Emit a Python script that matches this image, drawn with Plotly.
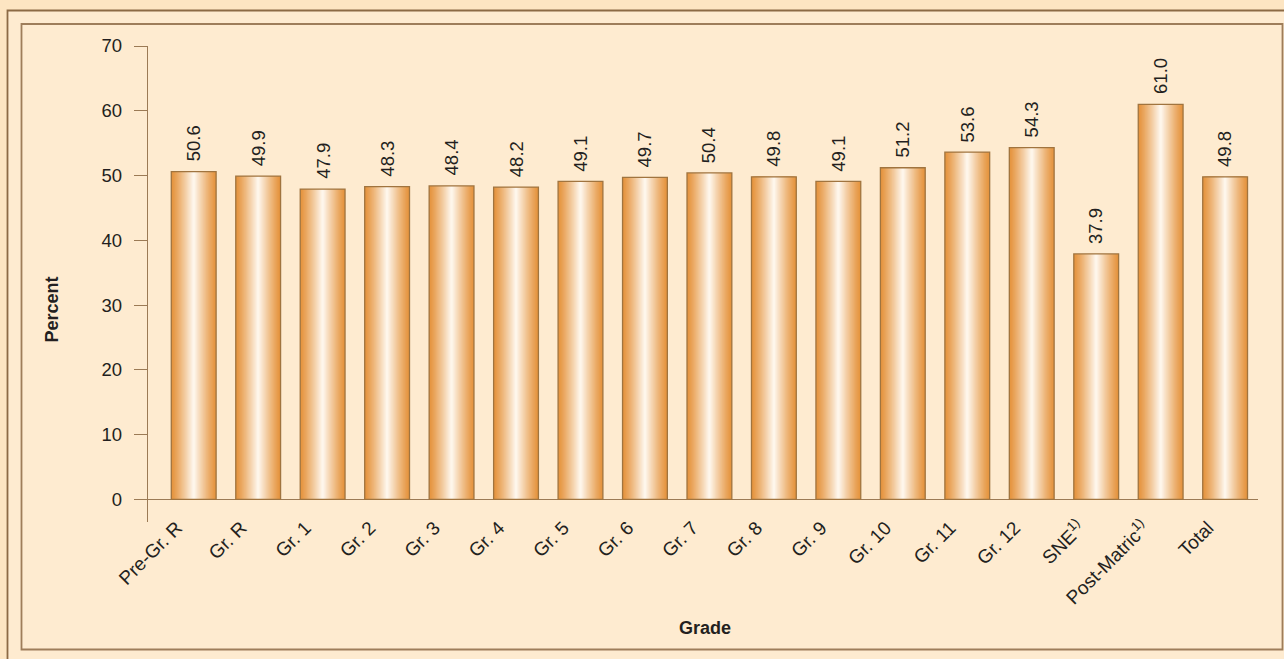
import plotly.graph_objects as go

categories = ["Pre-Gr. R", "Gr. R", "Gr. 1", "Gr. 2", "Gr. 3", "Gr. 4", "Gr. 5", "Gr. 6",
              "Gr. 7", "Gr. 8", "Gr. 9", "Gr. 10", "Gr. 11", "Gr. 12",
              "SNE<sup>1)</sup>", "Post-Matric<sup>1)</sup>", "Total"]
values = [50.6, 49.9, 47.9, 48.3, 48.4, 48.2, 49.1, 49.7, 50.4, 49.8, 49.1,
          51.2, 53.6, 54.3, 37.9, 61.0, 49.8]
y_ticks = [0, 10, 20, 30, 40, 50, 60, 70]

FONT = "Liberation Sans, Arial, sans-serif"
TXT = "#231f20"
AXC = "#9b7a55"
OUTER_BG = "#fde5c2"
INNER_BG = "#feebd0"

W, H = 1284, 659
ML, MR, MT, MB = 148, 26, 46, 137
PW, PH = W - ML - MR, H - MT - MB


def px_x(px):
    return (px - ML) / PW


def px_y(py):
    return (H - MB - py) / PH


fig = go.Figure()

# gradient bars: layered bars of decreasing width, orange -> white
N = 20
BW = 0.695
edge = (229, 148, 62)
mid = (255, 252, 246)
for k in range(N):
    t = k / N
    s = t ** 1.15
    c = tuple(int(round(edge[i] + (mid[i] - edge[i]) * s)) for i in range(3))
    fig.add_trace(go.Bar(
        x=categories, y=values, width=BW * (1 - t),
        marker=dict(color="rgb(%d,%d,%d)" % c, line=dict(width=0)),
        hoverinfo="skip", showlegend=False))
# outline
fig.add_trace(go.Bar(
    x=categories, y=values, width=BW,
    marker=dict(color="rgba(0,0,0,0)", line=dict(color="#a0743f", width=1.3)),
    showlegend=False))

for c, v in zip(categories, values):
    fig.add_annotation(x=c, y=v, text="%.1f" % v, textangle=-90, showarrow=False,
                       yanchor="bottom", xanchor="center", yshift=8,
                       font=dict(family=FONT, size=18.5, color=TXT))

fig.add_annotation(xref="paper", yref="paper", x=px_x(51.5), y=px_y(310),
                   text="<b>Percent</b>", textangle=-90, showarrow=False,
                   xanchor="center", yanchor="middle",
                   font=dict(family=FONT, size=18, color=TXT))
fig.add_annotation(xref="paper", yref="paper", x=px_x(705), y=px_y(628),
                   text="<b>Grade</b>", showarrow=False,
                   xanchor="center", yanchor="middle",
                   font=dict(family=FONT, size=18, color=TXT))

fig.add_shape(type="rect", xref="paper", yref="paper", layer="below",
              x0=px_x(7.5), x1=px_x(1400), y0=px_y(10.5), y1=px_y(800),
              fillcolor=INNER_BG, line=dict(color="#8c6a45", width=1.8))
fig.add_shape(type="rect", xref="paper", yref="paper", layer="below",
              x0=px_x(21.5), x1=px_x(1282.5), y0=px_y(24), y1=px_y(649.5),
              fillcolor=INNER_BG, line=dict(color="#9e7d5a", width=1.8))

fig.update_layout(
    width=W, height=H,
    margin=dict(l=ML, r=MR, t=MT, b=MB, pad=0),
    paper_bgcolor=OUTER_BG, plot_bgcolor="rgba(0,0,0,0)",
    barmode="overlay", bargap=0.3,
    font=dict(family=FONT, size=18, color=TXT),
    showlegend=False,
    xaxis=dict(range=[-0.709, 16.51], showline=False, ticks="", showgrid=False,
               zeroline=False, tickangle=-45, tickfont=dict(size=19, color=TXT),
               ticklabelshift=-17, ticklabelstandoff=-10,
               fixedrange=True),
    yaxis=dict(range=[-3.5, 70], tickvals=y_ticks, showline=True, linecolor=AXC,
               linewidth=1.3, ticks="outside", ticklen=13, tickcolor=AXC, tickwidth=1.3,
               showgrid=False, zeroline=True, zerolinecolor=AXC, zerolinewidth=1.3,
               tickfont=dict(size=18.5, color=TXT), ticklabelstandoff=8,
               fixedrange=True),
)

fig.write_html("out.html", config={"displayModeBar": False},
               post_script="document.body.style.margin='0';"
                           "document.body.style.overflow='hidden';"
                           "document.body.style.background='%s';" % OUTER_BG)
